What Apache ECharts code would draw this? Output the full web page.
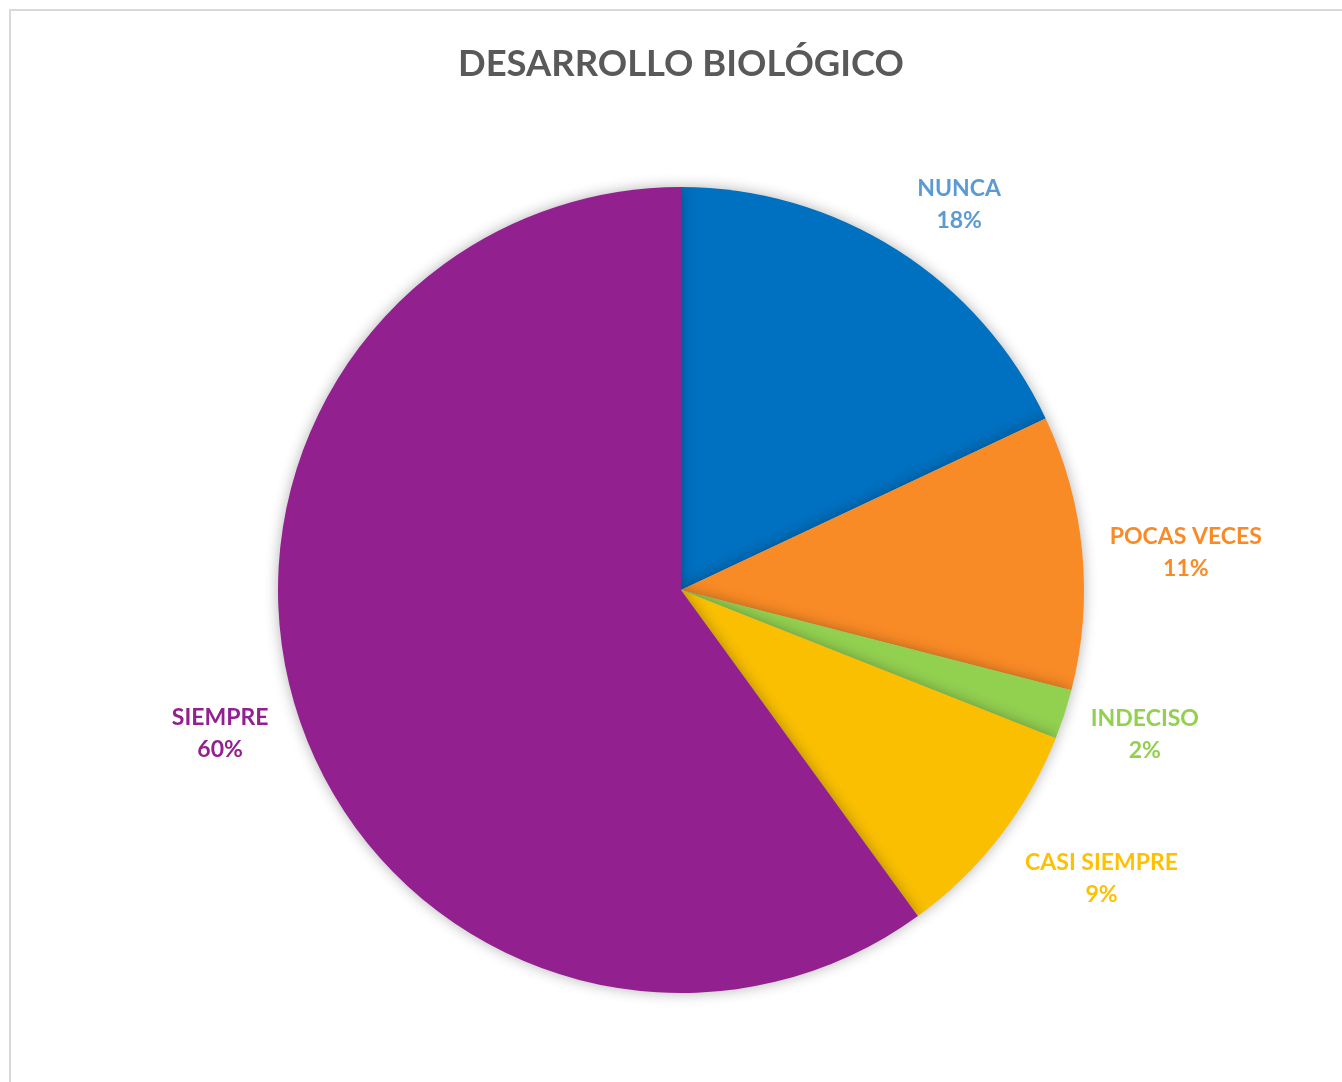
<!DOCTYPE html>
<html>
<head>
<meta charset="utf-8">
<script src="https://cdn.jsdelivr.net/npm/echarts@6/dist/echarts.min.js"></script>
<style>
html,body{margin:0;padding:0;background:#fff;}
#chart{width:1342px;height:1082px;}
</style>
</head>
<body>
<div id="chart"></div>
<script>
const categories = ["NUNCA", "POCAS VECES", "INDECISO", "CASI SIEMPRE", "SIEMPRE"];
const values = [18, 11, 2, 9, 60];
const sliceColors = ["#0070C0", "#F98B26", "#92D050", "#F9BF00", "#92208F"];
const labelColors = ["#5B9BD5", "#F98B26", "#92D050", "#FFC000", "#92208F"];
// small label nudges (px) to mimic the original best-fit label placement
const labelNudges = [[14, 31], [14, 9], [-5, -8], [31, -14], [8, -9]];

const pieData = categories.map((c, i) => ({ name: c, value: values[i], itemStyle: { color: sliceColors[i] } }));
const labelData = categories.map((c, i) => ({
  name: c, value: values[i],
  itemStyle: { color: 'rgba(0,0,0,0)' },
  label: { color: labelColors[i] }
}));

const chart = echarts.init(document.getElementById('chart'));
chart.setOption({
  backgroundColor: '#ffffff',
  animation: false,
  title: {
    text: 'DESARROLLO BIOLÓGICO',
    left: 453,
    top: 41,
    textStyle: { fontFamily: 'Lato', fontWeight: 'bold', fontSize: 36.4, color: '#595959' }
  },
  graphic: [{
    type: 'rect',
    shape: { x: 10, y: 10, width: 1400, height: 1200 },
    style: { fill: 'none', stroke: '#D9D9D9', lineWidth: 2 },
    silent: true
  }],
  series: [{
    type: 'pie',
    center: [681, 590],
    radius: [0, 403],
    startAngle: 90,
    clockwise: true,
    data: pieData,
    label: { show: false },
    labelLine: { show: false },
    itemStyle: { borderWidth: 0, shadowBlur: 14, shadowColor: 'rgba(0,0,0,0.3)' },
    emphasis: { disabled: true },
    silent: true
  }, {
    type: 'pie',
    center: [681, 590],
    radius: [455, 525],
    startAngle: 90,
    clockwise: true,
    data: labelData,
    label: {
      show: true,
      position: 'inside',
      formatter: p => p.name + '\n' + p.value + '%',
      fontFamily: 'Lato',
      fontWeight: 'bold',
      fontSize: 23,
      lineHeight: 32,
      align: 'center'
    },
    labelLayout: p => ({ dx: labelNudges[p.dataIndex][0], dy: labelNudges[p.dataIndex][1] }),
    labelLine: { show: false },
    emphasis: { disabled: true },
    silent: true
  }]
});
</script>
</body>
</html>
